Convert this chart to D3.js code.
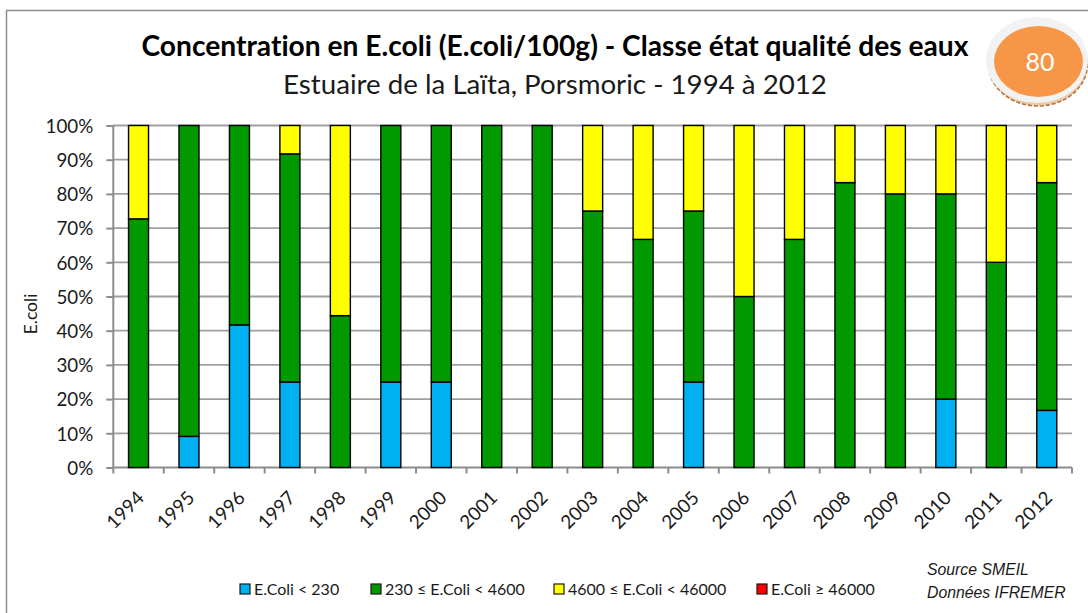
<!DOCTYPE html>
<html>
<head>
<meta charset="utf-8">
<script src="https://cdn.jsdelivr.net/npm/d3@7"></script>
<style>
html, body { margin: 0; padding: 0; background: #fff; overflow: hidden; }
svg { display: block; }
text { font-family: Lato, "Noto Sans", sans-serif; fill: #1a1a1a; font-variant-ligatures: none; }
</style>
</head>
<body>
<div id="chart"></div>
<script>
var years = ["1994","1995","1996","1997","1998","1999","2000","2001","2002","2003","2004","2005","2006","2007","2008","2009","2010","2011","2012"];
var below230 = [0, 9.1, 41.7, 25, 0, 25, 25, 0, 0, 0, 0, 25, 0, 0, 0, 0, 20, 0, 16.7];
var below4600 = [72.7, 90.9, 58.3, 66.7, 44.4, 75, 75, 100, 100, 75, 66.7, 50, 50, 66.7, 83.3, 80, 60, 60, 66.6];
var below46000 = [27.3, 0, 0, 8.3, 55.6, 0, 0, 0, 0, 25, 33.3, 25, 50, 33.3, 16.7, 20, 20, 40, 16.7];
var above46000 = [0, 0, 0, 0, 0, 0, 0, 0, 0, 0, 0, 0, 0, 0, 0, 0, 0, 0, 0];
var seriesNames = ["E.Coli < 230", "230 ≤ E.Coli < 4600", "4600 ≤ E.Coli < 46000", "E.Coli ≥ 46000"];
var seriesColors = ["#00b0f0", "#009900", "#ffff00", "#ff0000"];
var yTicks = [0, 10, 20, 30, 40, 50, 60, 70, 80, 90, 100];

var width = 1088, height = 613;
var left = 113.3, right = 1072, top_ = 125.5, bottom = 467.5;

var svg = d3.select("#chart").append("svg")
    .attr("width", width)
    .attr("height", height);

// chart frame
svg.append("path")
    .attr("d", "M6.5 613V10.5H1088")
    .attr("fill", "none")
    .attr("stroke", "#8e8e8e")
    .attr("stroke-width", 1.5);

var x = d3.scaleBand().domain(years).range([left, right]).paddingInner(0).paddingOuter(0);
var y = d3.scaleLinear().domain([0, 100]).range([bottom, top_]);

var rows = years.map(function(d, i){
    return {year: d, a: below230[i], b: below4600[i], c: below46000[i], d: above46000[i]};
});
var stacked = d3.stack().keys(["a", "b", "c", "d"])(rows);

// gridlines
svg.append("g").selectAll("line")
    .data(yTicks.filter(function(d){ return d > 0; })).enter().append("line")
    .attr("x1", left).attr("x2", right)
    .attr("y1", function(d){ return y(d); })
    .attr("y2", function(d){ return y(d); })
    .attr("stroke", "#a0a0a0")
    .attr("stroke-width", 1.8);

// axes
var yAxis = svg.append("g")
    .attr("transform", "translate(" + left + ",0)")
    .call(d3.axisLeft(y).tickValues(yTicks).tickSize(7).tickFormat(function(d){ return d + "%"; }));
yAxis.selectAll("text").attr("font-size", 18.8).attr("x", -20).attr("dy", "0.36em");

// ticks between the categories, like the original
var xAxis = svg.append("g")
    .attr("transform", "translate(0," + bottom + ")")
    .call(d3.axisBottom(x).tickSize(0).tickPadding(0));
xAxis.selectAll("text").remove();
xAxis.selectAll(".tick").append("line")
    .attr("x1", -x.bandwidth() / 2).attr("x2", -x.bandwidth() / 2)
    .attr("y1", 0).attr("y2", 6);
xAxis.append("line")
    .attr("x1", right).attr("x2", right).attr("y1", 0).attr("y2", 6);

yAxis.selectAll(".domain, .tick line")
    .attr("stroke", "#8c8c8c")
    .attr("stroke-width", 2);
xAxis.selectAll(".domain, line")
    .attr("stroke", "#8c8c8c")
    .attr("stroke-width", 2);
yAxis.select(".domain").attr("d", "M0," + bottom + "V" + top_);
xAxis.select(".domain").attr("d", "M" + left + ",0H" + right);

var barWidth = 20;
var groups = svg.selectAll(".serie")
    .data(stacked).enter().append("g")
    .attr("class", "serie")
    .attr("fill", function(d, i){ return seriesColors[i]; });
groups.selectAll("rect")
    .data(function(d){ return d.filter(function(v){ return v[1] - v[0] > 0; }); })
    .enter().append("rect")
    .attr("x", function(d){ return x(d.data.year) + x.bandwidth() / 2 - barWidth / 2; })
    .attr("y", function(d){ return y(d[1]); })
    .attr("width", barWidth)
    .attr("height", function(d){ return y(d[0]) - y(d[1]); })
    .attr("stroke", "#000")
    .attr("stroke-width", 1.4);

// year labels
svg.selectAll(".year")
    .data(years).enter().append("text")
    .attr("class", "year")
    .attr("font-size", 18.8)
    .attr("text-anchor", "end")
    .attr("transform", function(d){
        return "translate(" + (x(d) + x.bandwidth() / 2) + "," + (bottom + 25) + ") rotate(-45)";
    })
    .attr("dy", "0.5em")
    .text(function(d){ return d; });

// titles
svg.append("text")
    .attr("x", 555).attr("y", 56)
    .attr("text-anchor", "middle")
    .attr("font-size", 28.2)
    .attr("font-weight", 700)
    .style("fill", "#000")
    .text("Concentration en E.coli (E.coli/100g) - Classe état qualité des eaux");
svg.append("text")
    .attr("x", 555).attr("y", 94)
    .attr("text-anchor", "middle")
    .attr("font-size", 27.7)
    .text("Estuaire de la Laïta, Porsmoric - 1994 à 2012");

svg.append("text")
    .attr("transform", "translate(37,314) rotate(-90)")
    .attr("text-anchor", "middle")
    .attr("font-size", 17.5)
    .text("E.coli");

// legend
var legendX = [240, 371, 554, 757];
var legend = svg.selectAll(".legend-item")
    .data(seriesNames).enter().append("g")
    .attr("class", "legend-item")
    .attr("transform", function(d, i){ return "translate(" + legendX[i] + ",584)"; });
legend.append("rect")
    .attr("width", 10).attr("height", 10)
    .attr("fill", function(d, i){ return seriesColors[i]; })
    .attr("stroke", "#1a1a1a")
    .attr("stroke-width", 1.2);
legend.append("text")
    .attr("x", 14).attr("y", 11)
    .attr("font-size", 16)
    .text(function(d){ return d; });

// source note
svg.append("text")
    .attr("x", 927).attr("y", 575)
    .style("font-family", "'Liberation Sans'")
    .style("font-style", "italic")
    .attr("font-size", 15.8)
    .text("Source SMEIL");
svg.append("text")
    .attr("x", 927).attr("y", 598)
    .style("font-family", "'Liberation Sans'")
    .style("font-style", "italic")
    .attr("font-size", 15.8)
    .text("Données IFREMER");

// badge
var badge = svg.append("g");
badge.append("ellipse")
    .attr("cx", 1038).attr("cy", 64).attr("rx", 49.5).attr("ry", 42)
    .attr("fill", "#e9c9a8")
    .attr("stroke", "#b5743a")
    .attr("stroke-width", 1.6)
    .attr("stroke-dasharray", "4 2");
badge.append("ellipse")
    .attr("cx", 1037).attr("cy", 60).attr("rx", 51).attr("ry", 43)
    .attr("fill", "#f2f2f2");
badge.append("ellipse")
    .attr("cx", 1038.5).attr("cy", 61.5).attr("rx", 44.5).attr("ry", 35.5)
    .attr("fill", "#f79646");
badge.append("text")
    .attr("x", 1040).attr("y", 71)
    .attr("text-anchor", "middle")
    .attr("font-size", 25)
    .style("fill", "#fff")
    .text("80");
</script>
</body>
</html>
